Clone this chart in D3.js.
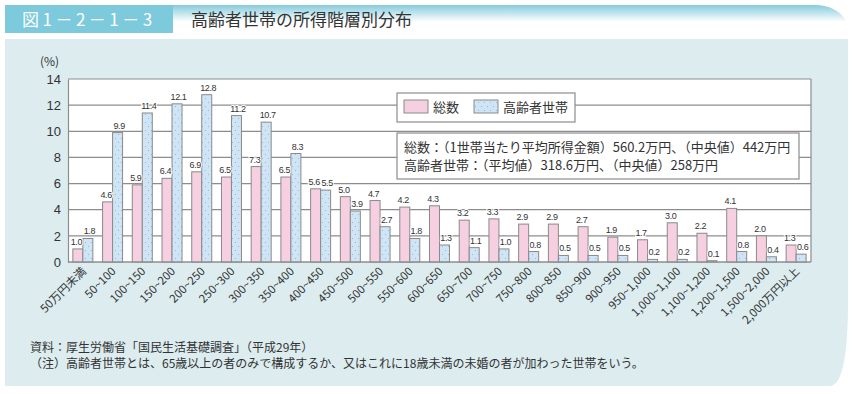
<!DOCTYPE html>
<html>
<head>
<meta charset="utf-8">
<script src="https://cdn.jsdelivr.net/npm/d3@7"></script>
<style>
body { margin: 0; background: #fff; }
svg { display: block; font-family: "Noto Sans CJK JP", "Noto Sans", sans-serif; }
</style>
</head>
<body>
<svg id="chart" width="852" height="394"></svg>
<script>
var categories = ["50万円未満", "50~100", "100~150", "150~200", "200~250", "250~300", "300~350",
  "350~400", "400~450", "450~500", "500~550", "550~600", "600~650", "650~700", "700~750",
  "750~800", "800~850", "850~900", "900~950", "950~1,000", "1,000~1,100", "1,100~1,200",
  "1,200~1,500", "1,500~2,000", "2,000万円以上"];
var totalValues = [1.0, 4.6, 5.9, 6.4, 6.9, 6.5, 7.3, 6.5, 5.6, 5.0, 4.7, 4.2, 4.3, 3.2, 3.3,
  2.9, 2.9, 2.7, 1.9, 1.7, 3.0, 2.2, 4.1, 2.0, 1.3];
var elderlyValues = [1.8, 9.9, 11.4, 12.1, 12.8, 11.2, 10.7, 8.3, 5.5, 3.9, 2.7, 1.8, 1.3, 1.1, 1.0,
  0.8, 0.5, 0.5, 0.5, 0.2, 0.2, 0.1, 0.8, 0.4, 0.6];
var yTicks = [0, 2, 4, 6, 8, 10, 12, 14];
var seriesNames = ["総数", "高齢者世帯"];

var svg = d3.select("#chart");
var defs = svg.append("defs");

// header gradient
var grad = defs.append("linearGradient").attr("id", "hdr").attr("x1", 0).attr("y1", 0).attr("x2", 0).attr("y2", 1);
grad.append("stop").attr("offset", "0%").attr("stop-color", "#86cbdc");
grad.append("stop").attr("offset", "60%").attr("stop-color", "#ffffff");

// dotted pattern for elderly bars
var pat = defs.append("pattern").attr("id", "dots").attr("patternUnits", "userSpaceOnUse")
  .attr("width", 6).attr("height", 8);
pat.append("rect").attr("width", 6).attr("height", 8).attr("fill", "#cfe4f4");
pat.append("rect").attr("x", 1).attr("y", 2).attr("width", 1).attr("height", 1).attr("fill", "#8fb9dd");
pat.append("rect").attr("x", 4).attr("y", 6).attr("width", 1).attr("height", 1).attr("fill", "#8fb9dd");

// header
svg.append("path").attr("d", "M173,5 H815 Q835,5 846,20 V33 H173 Z").attr("fill", "url(#hdr)");
svg.append("rect").attr("x", 5).attr("y", 5).attr("width", 168).attr("height", 28).attr("fill", "#7ccadb");
svg.append("text").attr("x", 22).attr("y", 26).attr("fill", "#fff").attr("font-size", 17)
  .attr("letter-spacing", 3.5).text("図1－2－1－3");
svg.append("text").attr("x", 191).attr("y", 26).attr("fill", "#333").attr("font-size", 17)
  .text("高齢者世帯の所得階層別分布");

// panel
svg.append("path").attr("d", "M5,39 H848 V300 Q848,385 830,386 H5 Z").attr("fill", "#dcecef");

var margin = {left: 68, right: 811, top: 79, bottom: 262};

var x = d3.scaleBand().domain(categories).range([margin.left, margin.right]);
var y = d3.scaleLinear().domain([0, 14]).range([margin.bottom, margin.top]);

svg.append("rect").attr("x", margin.left).attr("y", margin.top)
  .attr("width", margin.right - margin.left).attr("height", margin.bottom - margin.top)
  .attr("fill", "#fff");

// grid
svg.append("g").selectAll("line").data(yTicks).enter().append("line")
  .attr("x1", margin.left).attr("x2", margin.right)
  .attr("y1", d => y(d)).attr("y2", d => y(d))
  .attr("stroke", "#8d8d8d").attr("stroke-width", 1.2);

// y axis
var yAxis = svg.append("g").attr("transform", "translate(" + margin.left + ",0)")
  .call(d3.axisLeft(y).tickValues(yTicks).tickSize(0).tickPadding(7));
yAxis.select(".domain").attr("stroke", "#8d8d8d").attr("stroke-width", 1.2);
yAxis.selectAll("text").attr("font-size", 13).attr("fill", "#333")
  .attr("font-family", "Liberation Sans, sans-serif");

svg.append("text").attr("x", 40).attr("y", 66).attr("font-size", 12).attr("fill", "#333").text("(%)");

var barW = 10;
function bx(i, s) { return x(categories[i]) + x.bandwidth() / 2 - barW + s * barW; }

var data = [];
categories.forEach(function(c, i) {
  data.push({i: i, s: 0, v: totalValues[i]});
  data.push({i: i, s: 1, v: elderlyValues[i]});
});

svg.append("g").selectAll("rect").data(data).enter().append("rect")
  .attr("x", d => bx(d.i, d.s))
  .attr("y", d => y(d.v))
  .attr("width", barW)
  .attr("height", d => y(0) - y(d.v))
  .attr("fill", d => d.s == 0 ? "#f6d0e1" : "url(#dots)")
  .attr("stroke", "#8a8a8a").attr("stroke-width", 1);

// right border on top
svg.append("line").attr("x1", margin.right).attr("x2", margin.right)
  .attr("y1", margin.top).attr("y2", margin.bottom).attr("stroke", "#8d8d8d").attr("stroke-width", 1.2);
svg.append("line").attr("x1", margin.left).attr("x2", margin.right)
  .attr("y1", margin.bottom).attr("y2", margin.bottom).attr("stroke", "#8d8d8d").attr("stroke-width", 1.2);

// value labels
svg.append("g").selectAll("text").data(data).enter().append("text")
  .attr("x", d => bx(d.i, d.s) + barW / 2 + (d.s == 0 ? -1.5 : 1.5))
  .attr("y", d => y(d.v) - 4)
  .attr("text-anchor", "middle")
  .attr("font-size", 9)
  .attr("letter-spacing", -0.4)
  .attr("font-family", "Liberation Sans, sans-serif")
  .attr("fill", "#333")
  .attr("stroke", "#fff").attr("stroke-width", 2).attr("paint-order", "stroke")
  .text(d => d.v.toFixed(1));

// x labels
svg.append("g").selectAll("text").data(categories).enter().append("text")
  .attr("transform", d => "translate(" + (x(d) + x.bandwidth() / 2 + 4) + "," + (margin.bottom + 10) + ") rotate(-45)")
  .attr("text-anchor", "end")
  .attr("font-size", 11.5)
  .attr("fill", "#333")
  .text(d => d);

// legend
var lg = svg.append("g");
lg.append("rect").attr("x", 397).attr("y", 93).attr("width", 178).attr("height", 29)
  .attr("fill", "#fff").attr("stroke", "#8d8d8d").attr("stroke-width", 1.2);
[0, 1].forEach(function(s) {
  var lx = s == 0 ? 404 : 474;
  lg.append("rect").attr("x", lx).attr("y", 100).attr("width", 24).attr("height", 13)
    .attr("fill", s == 0 ? "#f6d0e1" : "url(#dots)").attr("stroke", "#8a8a8a");
  lg.append("text").attr("x", lx + 29).attr("y", 112).attr("font-size", 13).attr("fill", "#333")
    .text(seriesNames[s]);
});

// note box
var nb = svg.append("g");
nb.append("rect").attr("x", 397).attr("y", 133).attr("width", 402).attr("height", 46)
  .attr("fill", "#fff").attr("stroke", "#8d8d8d").attr("stroke-width", 1.2);
nb.append("text").attr("x", 404).attr("y", 152).attr("font-size", 13).attr("fill", "#333")
  .text("総数：（1世帯当たり平均所得金額）560.2万円、（中央値）442万円");
nb.append("text").attr("x", 404).attr("y", 170).attr("font-size", 13).attr("fill", "#333")
  .text("高齢者世帯：（平均値）318.6万円、（中央値）258万円");

// footnotes
svg.append("text").attr("x", 30).attr("y", 352).attr("font-size", 12).attr("fill", "#333")
  .text("資料：厚生労働省「国民生活基礎調査」（平成29年）");
svg.append("text").attr("x", 30).attr("y", 368).attr("font-size", 12).attr("fill", "#333")
  .text("（注）高齢者世帯とは、65歳以上の者のみで構成するか、又はこれに18歳未満の未婚の者が加わった世帯をいう。");
</script>
</body>
</html>
